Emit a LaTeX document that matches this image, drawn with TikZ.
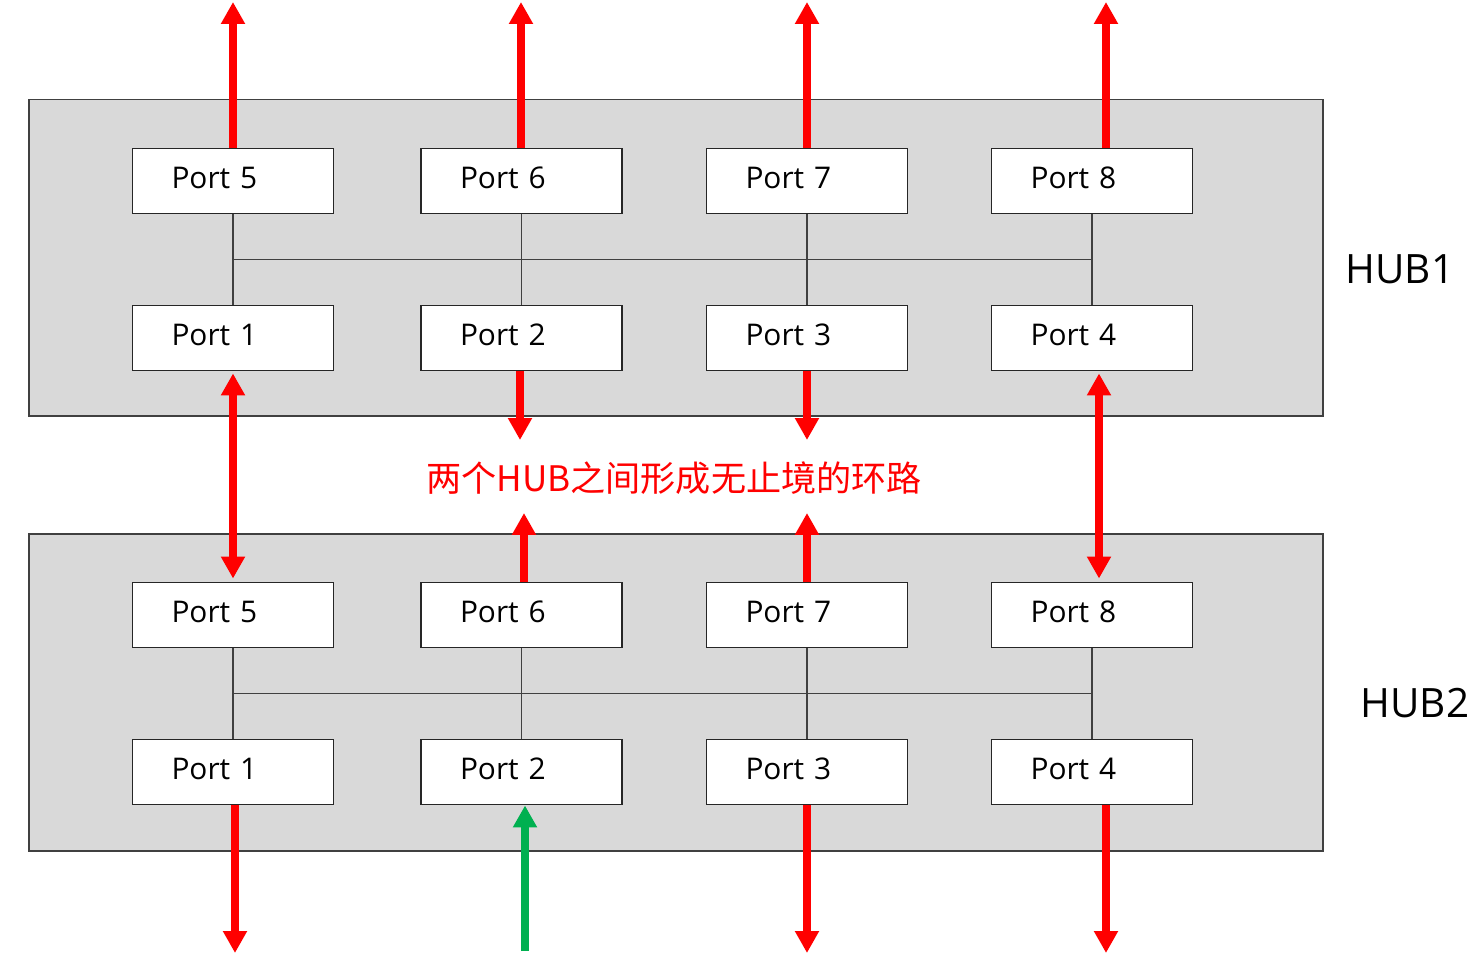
\documentclass[tikz,border=0pt]{standalone}
\usepackage{fontspec}
\setmainfont{Open Sans}
\newfontfamily\cjk{Noto Sans CJK SC}
\usetikzlibrary{arrows.meta,calc}
\definecolor{hubgray}{HTML}{D9D9D9}
\definecolor{edgegray}{HTML}{404040}
\definecolor{arrred}{HTML}{FF0000}
\definecolor{arrgreen}{HTML}{00B050}
\tikzset{
  hubbox/.style={draw=edgegray, line width=1.1pt, fill=hubgray, minimum width=25.88cm, minimum height=6.34cm, inner sep=0pt},
  portbox/.style={draw=black!85, line width=1.1pt, fill=white, text width=2.46cm, align=left, inner xsep=0.78cm, inner ysep=0pt, minimum height=1.3cm, text height=12pt, text depth=3.6pt, font=\fontsize{17}{20}\selectfont},
  bus/.style={draw=edgegray, line width=1pt},
  redarr/.style={draw=arrred, line width=4.5pt, -{Triangle[length=12.5pt, width=13pt]}},
  redboth/.style={draw=arrred, line width=4.5pt, {Triangle[length=12.5pt, width=13pt]}-{Triangle[length=12.5pt, width=13pt]}},
  greenarr/.style={draw=arrgreen, line width=4.5pt, -{Triangle[length=12.5pt, width=13pt]}},
  hublabel/.style={font=\fontsize{23}{28}\selectfont, text=black},
  looplabel/.style={font=\cjk\fontsize{20}{24}\selectfont, text=arrred}
}
\begin{document}
\begin{tikzpicture}[x=0.02cm, y=-0.02cm]
\useasboundingbox (0,0) rectangle (1468,962);
% hubs
\node[hubbox] (hub1) at (676,258) {};
\node[hubbox] (hub2) at (676,692.5) {};
% HUB1 ports
\node[portbox] (h1p5) at (233,181) {Port 5};
\node[portbox] (h1p6) at (521.5,181) {Port 6};
\node[portbox] (h1p7) at (807,181) {Port 7};
\node[portbox] (h1p8) at (1092,181) {Port 8};
\node[portbox] (h1p1) at (233,338) {Port 1};
\node[portbox] (h1p2) at (521.5,338) {Port 2};
\node[portbox] (h1p3) at (807,338) {Port 3};
\node[portbox] (h1p4) at (1092,338) {Port 4};
% HUB2 ports
\node[portbox] (h2p5) at (233,615) {Port 5};
\node[portbox] (h2p6) at (521.5,615) {Port 6};
\node[portbox] (h2p7) at (807,615) {Port 7};
\node[portbox] (h2p8) at (1092,615) {Port 8};
\node[portbox] (h2p1) at (233,772) {Port 1};
\node[portbox] (h2p2) at (521.5,772) {Port 2};
\node[portbox] (h2p3) at (807,772) {Port 3};
\node[portbox] (h2p4) at (1092,772) {Port 4};
% internal buses
\foreach \h in {h1,h2}{
  \draw[bus] (\h p5.south) -- (\h p1.north);
  \draw[bus] (\h p6.south) -- (\h p2.north);
  \draw[bus] (\h p7.south) -- (\h p3.north);
  \draw[bus] (\h p8.south) -- (\h p4.north);
  \draw[bus] ($(\h p5.south)!0.5!(\h p1.north)$) -- ($(\h p8.south)!0.5!(\h p4.north)$);
}
% labels
\node[hublabel] (hub1l) at (1400,269) {HUB1};
\node[hublabel] (hub2l) at (1415,703) {HUB2};
\node[looplabel] (loop) at (674,478) {两个HUB之间形成无止境的环路};
% free ends
\coordinate (t5) at (233,2);
\coordinate (t6) at (521,2);
\coordinate (t7) at (807,2);
\coordinate (t8) at (1106,2);
\coordinate (d2) at (520,440);
\coordinate (d3) at (807,440);
\coordinate (u6) at (524,513);
\coordinate (u7) at (807,513);
\coordinate (b1) at (235,953);
\coordinate (g2) at (525,951);
\coordinate (b3) at (807,953);
\coordinate (b4) at (1106,953);
% top arrows
\draw[redarr] (h1p5.north -| t5) -- (t5);
\draw[redarr] (h1p6.north -| t6) -- (t6);
\draw[redarr] (h1p7.north -| t7) -- (t7);
\draw[redarr] (h1p8.north -| t8) -- (t8);
% between hubs
\draw[redboth] ([yshift=-0.04cm]h1p1.south) -- ([yshift=0.06cm]h2p5.north);
\draw[redboth] ([xshift=0.14cm,yshift=-0.04cm]h1p4.south) -- ([xshift=0.14cm,yshift=0.06cm]h2p8.north);
\draw[redarr] (h1p2.south -| d2) -- (d2);
\draw[redarr] (h1p3.south -| d3) -- (d3);
\draw[redarr] (h2p6.north -| u6) -- (u6);
\draw[redarr] (h2p7.north -| u7) -- (u7);
% bottom arrows
\draw[redarr] (h2p1.south -| b1) -- (b1);
\draw[greenarr] (g2) -- (h2p2.south -| g2);
\draw[redarr] (h2p3.south -| b3) -- (b3);
\draw[redarr] (h2p4.south -| b4) -- (b4);
\end{tikzpicture}
\end{document}
